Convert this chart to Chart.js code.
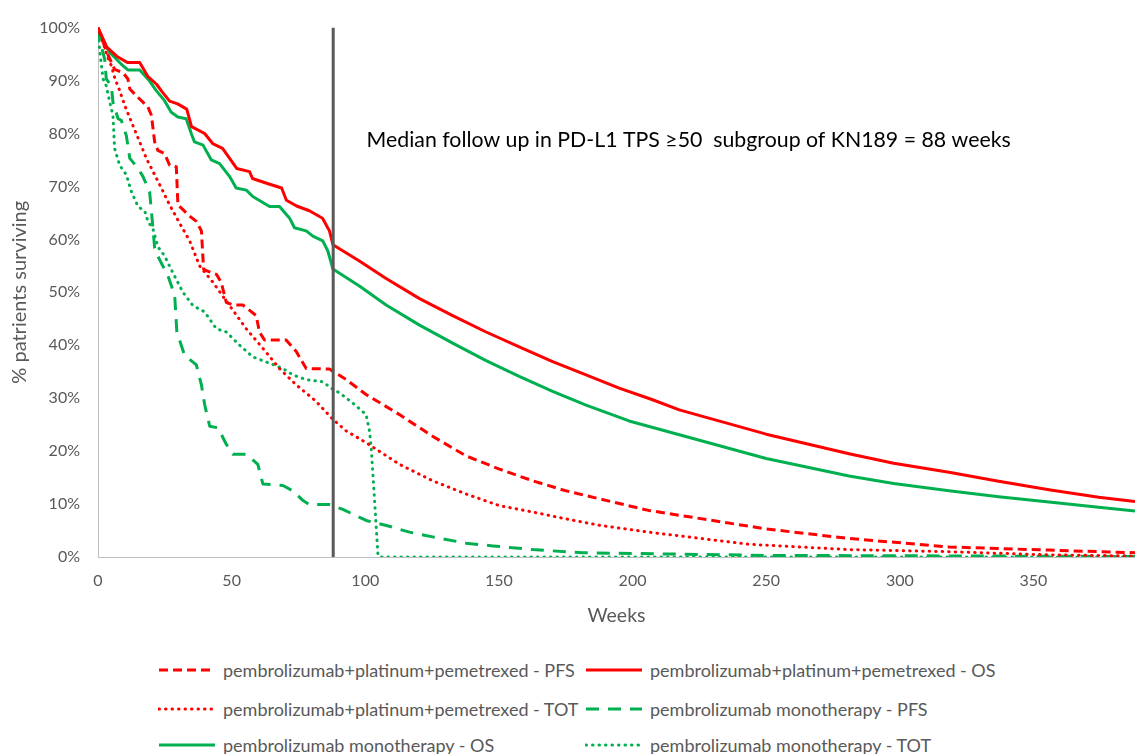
<!DOCTYPE html>
<html>
<head>
<meta charset="utf-8">
<script src="https://cdn.jsdelivr.net/npm/chart.js@4.4.1/dist/chart.umd.min.js"></script>
<style>
  html, body { margin: 0; padding: 0; background: #ffffff; }
  #wrap { position: relative; width: 1135px; height: 754px; overflow: hidden; font-family: Lato, "Open Sans", sans-serif; }
  #c { position: absolute; left: 0; top: 0; }
  .item { position: absolute; height: 22px; display: flex; align-items: center; color: #595959; font-size: 18px; white-space: nowrap; }
  .item svg { margin-right: 7px; }
</style>
</head>
<body>
<div id="wrap">
  <canvas id="c" width="1135" height="640"></canvas>
  <div id="legend"></div>
</div>
<script>
// ---------------- data (weeks, % surviving) ----------------
const xTickStep = 50;
const yTickStep = 10;
const followUpWeek = 88;
const annotationText = "Median follow up in PD-L1 TPS \u226550  subgroup of KN189 = 88 weeks";

const pcpOsWeeks = [0, 3.3, 7, 11, 15.6, 18.6, 21.9, 23.8, 26.8, 29.8, 33.2, 35, 39.9, 42.9, 46.6, 51.9, 56.7, 57.8, 63.1, 68.7, 70.5, 74.3, 79.1, 84, 86.6, 87.9, 97.8, 107.8, 120.3, 132.7, 145.2, 157.6, 170.1, 182.6, 195, 207.5, 217.5, 250, 281, 297.7, 318.4, 337, 355.8, 374.4, 388];
const pcpOsPct   = [100, 96.3, 94.6, 93.4, 93.4, 90.8, 89.3, 88.0, 86.1, 85.6, 84.6, 81.3, 80.0, 78.1, 77.2, 73.4, 72.8, 71.5, 70.6, 69.7, 67.4, 66.3, 65.4, 64.0, 61.6, 59.0, 55.9, 52.6, 48.8, 45.6, 42.5, 39.7, 36.9, 34.4, 31.9, 29.7, 27.8, 23.2, 19.5, 17.7, 16.0, 14.3, 12.7, 11.3, 10.5];

const monoOsWeeks = [0, 0.6, 4.4, 9.3, 11.2, 15.6, 19.3, 21.8, 24.9, 27.4, 29.9, 33, 34.9, 36.1, 39.3, 42.4, 45.5, 49.2, 51.7, 55.5, 57.9, 64.2, 67.9, 71.7, 73.5, 77.9, 80.4, 84.1, 86, 87.9, 97.8, 107.8, 120.3, 132.7, 145.2, 157.6, 170.1, 182.6, 198.7, 250, 281, 297.7, 318.4, 337, 355.8, 374.4, 388];
const monoOsPct   = [100, 98.4, 95.3, 92.8, 92.0, 92.0, 89.9, 88.1, 86.2, 84.0, 83.1, 82.8, 80.0, 78.4, 77.8, 75.0, 74.3, 71.9, 69.7, 69.3, 68.1, 66.2, 66.2, 64.0, 62.2, 61.6, 60.6, 59.7, 57.8, 54.4, 51.2, 47.6, 43.8, 40.4, 37.1, 34.1, 31.3, 28.7, 25.7, 18.6, 15.3, 13.9, 12.5, 11.4, 10.4, 9.4, 8.7];

const pcpPfsWeeks = [0, 3.1, 6.2, 9.3, 11.2, 11.9, 15, 18.7, 20, 21.2, 22.4, 24.9, 26.8, 29.3, 29.9, 31.8, 34.3, 36.8, 38.7, 39.5, 40.5, 44.3, 46.1, 48, 50.5, 54.2, 59.2, 60.4, 62.3, 70.4, 74.2, 77.9, 86.6, 92.9, 100.3, 112.8, 125.2, 137.7, 150.2, 162.6, 175.1, 187.5, 206, 250, 281, 318.4, 355.8, 388];
const pcpPfsPct   = [100, 95.6, 92.1, 91.5, 90.3, 88.4, 86.8, 85.0, 83.4, 78.4, 76.8, 76.2, 74.0, 73.7, 66.5, 65.6, 64.4, 63.4, 61.6, 54.4, 54.1, 53.4, 51.9, 48.1, 47.6, 47.6, 45.6, 42.5, 41.0, 41.0, 38.8, 35.6, 35.5, 33.5, 30.7, 26.9, 22.8, 19.1, 16.6, 14.4, 12.5, 11.0, 8.8, 5.3, 3.5, 1.9, 1.3, 0.8];

const pcpTotWeeks = [0, 2, 3.7, 5, 6.2, 8.1, 10, 12.5, 15.6, 18.1, 20.6, 23.7, 26.8, 30.5, 34.3, 38, 43, 49.2, 55.5, 61.7, 67.9, 74.2, 81.6, 87.9, 92.9, 100.3, 112.8, 125.2, 137.7, 150.2, 162.6, 175.1, 187.5, 206, 243.6, 281, 318.4, 355.8, 388];
const pcpTotPct   = [100, 97, 94.3, 92.8, 90.6, 88.1, 85.3, 82.2, 78.4, 75.3, 72.8, 69.7, 66.5, 63.1, 59.7, 55.0, 51.9, 47.5, 43.1, 39.4, 35.6, 32.5, 29.4, 26.0, 23.8, 21.6, 17.5, 14.4, 11.9, 9.7, 8.5, 7.2, 6.0, 4.7, 2.4, 1.4, 1.0, 0.4, 0.2];

const monoPfsWeeks = [0, 0.6, 2.5, 3.1, 5, 5.6, 7.5, 8.7, 10.6, 11.9, 15, 16.8, 19.3, 20, 21.2, 22.8, 26.2, 28.7, 29.5, 32.4, 36.8, 38.7, 39.9, 41.8, 44.9, 48, 50.5, 55.5, 59.8, 61.7, 69.2, 72.9, 76.6, 79.1, 86.6, 91.6, 100.3, 109, 116.5, 125.2, 137.7, 147.7, 162.6, 181.3, 250, 388];
const monoPfsPct   = [100, 97.8, 94, 90.3, 89, 85.9, 82.8, 82.5, 79.6, 75.3, 73.4, 71.9, 69.0, 65.3, 58.4, 56.4, 53.1, 49.4, 42.5, 38.1, 36.3, 32.5, 28.8, 24.7, 24.4, 21.3, 19.4, 19.4, 17.5, 13.8, 13.5, 12.5, 10.7, 9.9, 9.9, 9.0, 6.9, 5.8, 4.7, 3.8, 2.6, 2.1, 1.4, 0.8, 0.3, 0.1];

const monoTotWeeks = [0, 0.6, 1.3, 1.9, 3.1, 4.4, 5.6, 6.2, 8.1, 10.6, 12.5, 15, 17.5, 18.7, 20.6, 22.4, 24.9, 28, 31.8, 35.5, 39.9, 44.3, 48, 53, 57.9, 64.2, 69.2, 72.9, 77.9, 84.1, 87.2, 90.4, 96, 100.3, 101.6, 102.2, 103.4, 104.7, 105.2, 388];
const monoTotPct   = [100, 95.9, 92.8, 90.3, 89, 85.9, 83.4, 77.2, 74.0, 72.2, 69.0, 66.2, 65.3, 63.4, 61.9, 58.6, 56.9, 53.7, 50, 47.5, 46.3, 43.1, 42.5, 40, 37.8, 36.6, 35.6, 34.4, 33.5, 33.1, 31.9, 31.0, 28.8, 26.9, 23.8, 20.7, 11.3, 0.7, 0, 0];

const followUpLineY = [0, 100];

// ---------------- styling ----------------
const RED = "#FF0000";
const GREEN = "#00B050";
const GREY = "#595959";
const FONT = "Lato, 'Open Sans', sans-serif";

function pts(w, p) { return w.map((x, i) => ({ x: x, y: p[i] })); }

const series = [
  { label: "pembrolizumab+platinum+pemetrexed - PFS", w: pcpPfsWeeks, p: pcpPfsPct, color: RED, dash: [9, 5], cap: "butt", width: 3 },
  { label: "pembrolizumab+platinum+pemetrexed - OS", w: pcpOsWeeks, p: pcpOsPct, color: RED, dash: [], cap: "butt", width: 3 },
  { label: "pembrolizumab+platinum+pemetrexed - TOT", w: pcpTotWeeks, p: pcpTotPct, color: RED, dash: [0.5, 6], cap: "round", width: 3 },
  { label: "pembrolizumab monotherapy - PFS", w: monoPfsWeeks, p: monoPfsPct, color: GREEN, dash: [13, 9], cap: "butt", width: 3 },
  { label: "pembrolizumab monotherapy - OS", w: monoOsWeeks, p: monoOsPct, color: GREEN, dash: [], cap: "butt", width: 3 },
  { label: "pembrolizumab monotherapy - TOT", w: monoTotWeeks, p: monoTotPct, color: GREEN, dash: [0.5, 6], cap: "round", width: 3 }
];

const datasets = series.map(s => ({
  label: s.label,
  data: pts(s.w, s.p),
  borderColor: s.color,
  backgroundColor: s.color,
  borderWidth: s.width,
  borderDash: s.dash,
  borderCapStyle: s.cap,
  borderJoinStyle: "round",
  pointRadius: 0,
  tension: 0,
  fill: false,
  order: 1
}));

datasets.push({
  label: "median follow-up",
  data: followUpLineY.map(v => ({ x: followUpWeek, y: v })),
  borderColor: GREY,
  borderWidth: 3,
  pointRadius: 0,
  fill: false,
  order: -1
});

const annotationPlugin = {
  id: "annotationText",
  afterDatasetsDraw(chart) {
    const { ctx, scales } = chart;
    ctx.save();
    ctx.font = "21.3px " + FONT;
    ctx.fillStyle = "#000000";
    ctx.textBaseline = "middle";
    ctx.textAlign = "left";
    ctx.fillText(annotationText, scales.x.getPixelForValue(100.5), scales.y.getPixelForValue(78.7));
    ctx.restore();
  }
};

Chart.defaults.font.family = FONT;
Chart.defaults.color = GREY;

new Chart(document.getElementById("c"), {
  type: "line",
  data: { datasets: datasets },
  plugins: [annotationPlugin],
  options: {
    responsive: false,
    animation: false,
    devicePixelRatio: 1,
    layout: { padding: { top: 23, right: 0, left: 0, bottom: 0 } },
    plugins: { legend: { display: false }, tooltip: { enabled: false } },
    scales: {
      x: {
        type: "linear",
        min: 0,
        max: 388,
        afterFit(s) { s.height = 83; },
        grid: { display: false, drawTicks: false },
        border: { display: true, color: "#BFBFBF", width: 1 },
        ticks: { stepSize: xTickStep, includeBounds: false, padding: 14, color: GREY, font: { size: 16 }, maxRotation: 0 },
        title: { display: true, text: "Weeks", color: GREY, font: { size: 19.5 }, padding: { top: 0, bottom: 13 } }
      },
      y: {
        type: "linear",
        min: 0,
        max: 100,
        afterFit(s) { s.width = 98; },
        grid: { display: false, drawTicks: false },
        border: { display: true, color: "#BFBFBF", width: 1 },
        ticks: { stepSize: yTickStep, padding: 18, color: GREY, font: { size: 16 }, callback: v => v + "%" },
        title: { display: true, text: "% patrients surviving", color: GREY, font: { size: 20 }, padding: { top: 8, bottom: 0 } }
      }
    }
  }
});

// ---------------- HTML legend (two columns, three rows) ----------------
const legendRows = [670, 709, 745];
const legendCols = [158, 585];
const legend = document.getElementById("legend");
series.forEach((s, i) => {
  const row = Math.floor(i / 2), col = i % 2;
  const div = document.createElement("div");
  div.className = "item";
  div.style.left = legendCols[col] + "px";
  div.style.top = (legendRows[row] - 11) + "px";
  const svgNS = "http://www.w3.org/2000/svg";
  const svg = document.createElementNS(svgNS, "svg");
  svg.setAttribute("width", "58");
  svg.setAttribute("height", "10");
  const ln = document.createElementNS(svgNS, "line");
  ln.setAttribute("x1", "1"); ln.setAttribute("x2", "57");
  ln.setAttribute("y1", "5"); ln.setAttribute("y2", "5");
  ln.setAttribute("stroke", s.color);
  ln.setAttribute("stroke-width", s.width);
  ln.setAttribute("stroke-linecap", s.cap);
  if (s.dash.length) ln.setAttribute("stroke-dasharray", s.dash.join(","));
  svg.appendChild(ln);
  div.appendChild(svg);
  const span = document.createElement("span");
  span.textContent = s.label;
  div.appendChild(span);
  legend.appendChild(div);
});
</script>
</body>
</html>
